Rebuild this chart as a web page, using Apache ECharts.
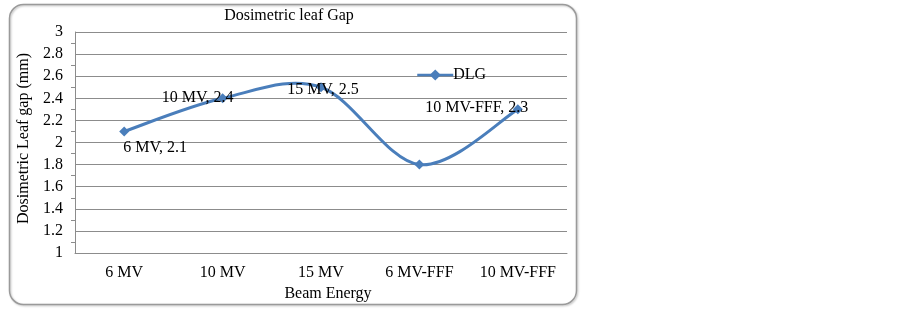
<!DOCTYPE html>
<html>
<head>
<meta charset="utf-8">
<script src="https://cdn.jsdelivr.net/npm/echarts@6/dist/echarts.min.js"></script>
<style>
  html, body { margin: 0; padding: 0; background: #fff; }
  #chart { width: 903px; height: 311px; }
</style>
</head>
<body>
<div id="chart"></div>
<script>
// data
const categories = ['6 MV', '10 MV', '15 MV', '6 MV-FFF', '10 MV-FFF'];
const dlgValues = [2.1, 2.4, 2.5, 1.8, 2.3];
// label offsets from each point (6 MV-FFF has no label)
const labelOffsets = [[31, 16], [-25, -1], [2, 3], null, [-41, -2]];

const font = '"Liberation Serif", "DejaVu Serif", serif';
const lineColor = '#4a7ebb';

const chart = echarts.init(document.getElementById('chart'));

const seriesData = dlgValues.map((v, i) => {
  const off = labelOffsets[i];
  return {
    value: v,
    label: off ? {
      show: true,
      position: 'inside',
      offset: off,
      formatter: '{b}, {c}',
      color: '#000',
      fontFamily: font,
      fontSize: 16
    } : { show: false }
  };
});

// spreadsheet-style smoothed line (catmull-rom, may overshoot like the original)
function renderCurve(params, api) {
  const n = dlgValues.length;
  const i = params.dataIndex;
  if (i >= n - 1) return;
  const pt = k => {
    const j = Math.max(0, Math.min(n - 1, k));
    return api.coord([j, dlgValues[j]]);
  };
  const p0 = pt(i - 1), p1 = pt(i), p2 = pt(i + 1), p3 = pt(i + 2);
  return {
    type: 'bezierCurve',
    shape: {
      x1: p1[0], y1: p1[1],
      x2: p2[0], y2: p2[1],
      cpx1: p1[0] + (p2[0] - p0[0]) / 6, cpy1: p1[1] + (p2[1] - p0[1]) / 6,
      cpx2: p2[0] - (p3[0] - p1[0]) / 6, cpy2: p2[1] - (p3[1] - p1[1]) / 6
    },
    style: { stroke: lineColor, lineWidth: 3, fill: 'none', lineCap: 'round' }
  };
}

chart.setOption({
  animation: false,
  title: {
    text: 'Dosimetric leaf Gap',
    left: 284,
    top: 3,
    textAlign: 'center',
    textStyle: { fontFamily: font, fontSize: 16, fontWeight: 'normal', color: '#000' }
  },
  legend: {
    left: 411,
    top: 62,
    itemWidth: 36,
    itemHeight: 14,
    itemGap: 0,
    textStyle: { fontFamily: font, fontSize: 16, color: '#000', padding: [0, 0, 0, -5] },
    lineStyle: { opacity: 1, width: 2.5, color: lineColor },
    data: ['DLG']
  },
  grid: { left: 75, right: 336, top: 32, bottom: 58 },
  xAxis: {
    type: 'category',
    data: categories,
    name: 'Beam Energy',
    nameLocation: 'middle',
    nameGap: 32,
    nameTextStyle: { fontFamily: font, fontSize: 16, color: '#000', padding: [0, 0, 0, 14] },
    axisLine: { show: true, lineStyle: { color: '#8c8c8c' } },
    axisTick: { show: false },
    axisLabel: { interval: 0, fontFamily: font, fontSize: 16, color: '#000', margin: 12 }
  },
  yAxis: {
    type: 'value',
    min: 1,
    max: 3,
    interval: 0.2,
    name: 'Dosimetric Leaf gap (mm)',
    nameLocation: 'middle',
    nameGap: 41,
    nameTextStyle: { fontFamily: font, fontSize: 16, color: '#000', padding: [0, 0, 0, 8] },
    axisLine: { show: true, lineStyle: { color: '#8c8c8c' } },
    axisTick: { show: false },
    minorTick: { show: true, splitNumber: 2, length: 4, lineStyle: { color: '#8c8c8c' } },
    axisLabel: {
      fontFamily: font, fontSize: 16, color: '#000', margin: 12,
      formatter: v => String(Math.round(v * 10) / 10)
    },
    splitLine: { show: true, lineStyle: { color: '#8c8c8c', width: 1 } }
  },
  series: [{
    name: 'DLG curve',
    type: 'custom',
    data: dlgValues.map((v, i) => [i, v]),
    encode: { x: 0, y: 1 },
    renderItem: renderCurve,
    z: 1,
    silent: true
  }, {
    name: 'DLG',
    type: 'line',
    data: seriesData,
    symbol: 'diamond',
    symbolSize: 10,
    itemStyle: { color: lineColor },
    lineStyle: { color: lineColor, width: 3, opacity: 0 },
    z: 3
  }],
  graphic: [{
    type: 'rect',
    shape: { x: 9.5, y: 4.5, width: 567, height: 300, r: 14 },
    style: {
      fill: 'none', stroke: '#9a9a9a', lineWidth: 1.5,
      shadowColor: 'rgba(0,0,0,0.25)', shadowBlur: 2, shadowOffsetX: 1, shadowOffsetY: 1
    },
    z: -1
  }]
});
</script>
</body>
</html>
